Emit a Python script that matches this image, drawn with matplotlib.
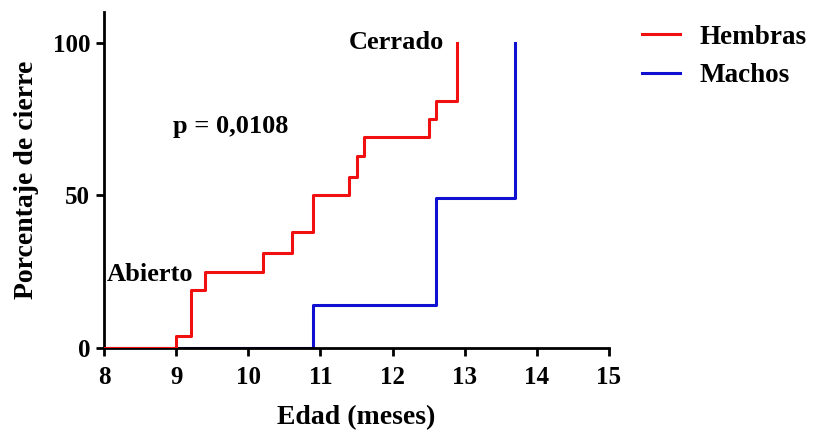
import matplotlib.pyplot as plt

plt.rcParams['font.family'] = ['Liberation Serif', 'DejaVu Serif']
plt.rcParams['font.weight'] = 'bold'

# edad (meses) y porcentaje de cierre acumulado
hembras_edad = [8.0, 9.0, 9.2, 9.4, 10.2, 10.6, 10.9, 11.4, 11.5, 11.6, 12.5, 12.6, 12.9]
hembras_pct = [0, 4, 19, 25, 31, 38, 50, 56, 63, 69, 75, 81, 100]
machos_edad = [8.0, 10.9, 12.6, 13.7]
machos_pct = [0, 14, 49, 100]

x_ticks = [8, 9, 10, 11, 12, 13, 14, 15]
y_ticks = [0, 50, 100]

fig = plt.figure(figsize=(8.14, 4.30), dpi=100)
ax = fig.add_axes([0.128, 0.191, 0.620, 0.781])

ax.step(machos_edad, machos_pct, where='post', color='#1010d0', lw=2.2, label='Machos', zorder=2)
ax.step(hembras_edad, hembras_pct, where='post', color='#f01010', lw=2.2, label='Hembras', zorder=3)

ax.set_xlim(8, 15)
ax.set_ylim(0, 110)
ax.set_xticks(x_ticks)
ax.set_yticks(y_ticks)
ax.tick_params(direction='out', length=6, width=2, labelsize=18)
ax.tick_params(axis='x', pad=7)
ax.tick_params(axis='y', pad=4)
for s in ['top', 'right']:
    ax.spines[s].set_visible(False)
for s in ['left', 'bottom']:
    ax.spines[s].set_linewidth(2)

ax.set_xlabel('Edad (meses)', fontsize=20, fontweight='bold', labelpad=12)
ax.set_ylabel('Porcentaje de cierre', fontsize=20, fontweight='bold', labelpad=10)

ax.text(12.72, 100, 'Cerrado', ha='right', va='center', fontsize=19, fontweight='bold')
ax.text(8.04, 24, 'Abierto', ha='left', va='center', fontsize=19, fontweight='bold')
ax.text(8.95, 72.5, 'p = 0,0108', ha='left', va='center', fontsize=19, fontweight='bold')

h, l = ax.get_legend_handles_labels()
ax.legend(h[::-1], l[::-1], loc='upper left', bbox_to_anchor=(1.018, 1.035), frameon=False,
          fontsize=19.5, handlelength=1.4, labelspacing=0.5, handletextpad=0.7)

fig.savefig('out.png', dpi=100)
